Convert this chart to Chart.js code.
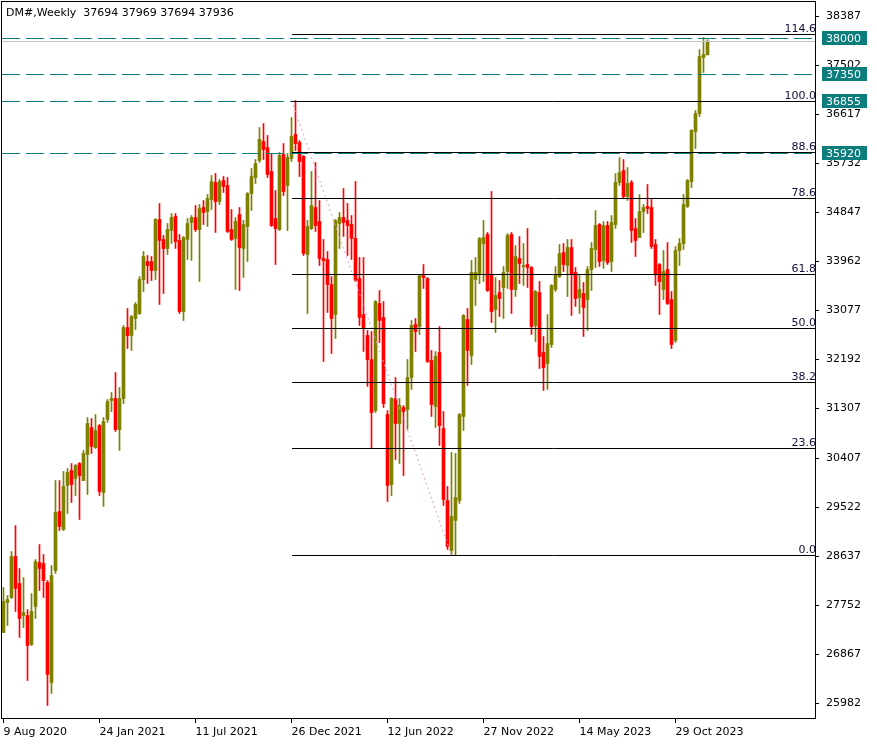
<!DOCTYPE html>
<html>
<head>
<meta charset="utf-8">
<script src="https://cdn.jsdelivr.net/npm/chart.js@4.4.0/dist/chart.umd.min.js"></script>
<style>
html, body { margin: 0; padding: 0; background: #fff; }
canvas { display: block; }
</style>
</head>
<body>
<canvas id="grafico" width="877" height="745"></canvas>
<script>
// weekly candles, DM#, one entry per week starting 9 Aug 2020
var opens = [27262,27804,27894,28635,28147,27569,27569,27045,27732,28526,
  28508,28165,26359,28382,29447,29122,29917,30188,30043,30314,
  30007,30477,30964,30603,31000,29790,31109,31452,31488,30928,
  31488,32770,32626,32933,33023,33637,33962,33962,33800,34721,
  34360,34197,34522,34775,34342,33059,34360,34667,34757,34540,
  34938,34865,35082,35389,35046,35425,35335,34540,34378,34811,
  34197,34594,35190,35479,35786,36130,36021,35588,34739,34540,
  35895,35335,35822,36256,36111,35859,34089,34558,34938,34685,
  34016,33998,33547,33005,34649,34757,34703,34631,34378,33655,
  33005,32626,32192,31271,33204,32951,31199,29935,31488,31037,
  31326,31289,31867,32825,32788,33709,33655,32174,31344,32319,
  30946,29646,28743,29285,29646,31163,32915,32265,33637,33746,
  34287,34450,33709,33095,33402,33493,33782,34450,33457,34016,
  33872,33908,33854,32806,33402,32319,32120,32463,33457,33691,
  34125,33890,34215,33764,33312,33384,33276,33818,34179,34631,
  33980,34612,33962,34631,35389,35606,35136,35389,34558,34396,
  34865,34956,34938,34269,33908,33457,33818,33276,32536,34161,
  34287,34956,35407,36310,36635,37647,37694];
var highs = [28075,27930,28725,29194,28418,28255,27677,27966,28580,28851,
  28671,28201,28472,30007,30007,30170,30224,30314,30296,30332,
  30549,31145,31127,31199,31019,31145,31470,31596,31958,31687,
  32806,33114,32987,33222,33691,34143,34071,34053,34739,35010,
  34432,34649,34829,34829,34450,34414,34739,34793,34974,34992,
  35064,35172,35516,35552,35443,35497,35479,34901,34757,34938,
  34703,35208,35642,35804,36382,36455,36238,35913,35245,35931,
  36093,35913,36563,36870,36148,35877,34703,35588,35750,35064,
  34360,34143,33691,34721,34847,35281,35010,34793,35407,34035,
  34035,32716,32698,33258,33439,33240,31271,31506,31867,31488,
  31362,32192,32897,32933,33728,33908,33673,32355,32337,32788,
  31253,29899,30513,30495,31217,33005,33114,33980,34035,34396,
  34703,34486,35227,33673,33619,33872,34468,34486,34251,34414,
  34287,34558,33872,33439,33601,32608,33005,33547,33872,34269,
  34287,34360,34360,33854,33709,33583,33872,34305,34883,34649,
  34685,34685,34793,35552,35841,35804,35660,35425,34739,35172,
  34992,35353,35082,34360,33926,34161,34305,33421,34233,34378,
  35172,35443,36346,36689,37791,38008,37969];
var lows = [27262,27388,27876,27641,27172,27352,26395,27027,27515,28021,
  27894,25944,26160,28328,29104,29104,29411,29610,29736,29303,
  30007,29754,30495,30585,29736,29538,31055,31253,30892,30549,
  31398,32391,32355,32734,33005,33421,33565,33619,33637,33186,
  33384,34089,34287,34197,33023,32897,33998,33980,34504,33601,
  34631,34594,34901,34486,34992,35208,34486,34342,33457,33439,
  33673,33962,34883,35371,35750,35804,35479,34594,33908,34522,
  35154,34522,35768,35967,35497,34071,33023,34540,34504,33890,
  32156,33041,32301,32572,34197,34414,34071,33998,33601,32806,
  32337,31705,30585,31235,32499,31326,29628,29736,30386,30314,
  30097,30928,31651,32337,32644,33475,32138,31163,30964,30639,
  29556,28761,28653,28653,29592,30910,31723,32102,33168,33565,
  33601,33421,32861,32680,32969,32933,33475,33023,33330,33565,
  33529,33493,32644,32517,32030,31633,31651,32409,33421,33673,
  33782,33330,32987,33150,33023,32608,32716,33439,33854,33872,
  33836,33908,33782,34558,35335,35100,35064,34305,34053,34396,
  34486,34829,34197,33529,33005,33276,33186,32391,32499,33890,
  34179,34938,35299,36003,36581,37376,37694];
var closes = [27822,27858,28635,28057,27515,27623,27027,27641,28544,28418,
  28201,26504,28291,29429,29176,29899,30152,29935,30278,30097,
  30495,31037,30621,30910,29809,31073,31434,31488,30928,31488,
  32770,32626,32969,33186,33637,34053,33890,33800,34721,34342,
  34197,34540,34757,34324,33059,34396,34649,34757,34540,34920,
  34847,35100,35407,35046,35407,35317,34504,34360,34685,34215,
  34631,35190,35497,35732,36166,35985,35534,34612,34558,35877,
  35226,35841,36220,36093,35768,34107,34594,34974,34612,34016,
  33980,33547,32933,34703,34757,34667,34612,34378,33619,32951,
  32752,32192,31235,33240,32897,31398,29917,31488,31037,31362,
  31253,31867,32806,32698,33709,33673,32156,31380,32247,31000,
  29664,28815,29357,29700,31199,32987,32355,33764,33764,34378,
  34396,33439,33059,33348,33294,33764,34432,33457,34053,33926,
  33890,33854,32788,33421,32247,32048,32481,33529,33728,34107,
  33908,34215,33728,33294,33457,33132,33818,34197,34612,33962,
  34612,33944,34667,35389,35570,35136,35371,34522,34342,34865,
  34938,34920,34233,33728,33601,33782,33204,32463,34161,34287,
  34992,35425,36328,36635,37665,37701,37936];

// date labels on the time axis (week index -> label)
var fechasIdx = [0, 24, 48, 72, 96, 120, 144, 168];
var fechas = ["9 Aug 2020", "24 Jan 2021", "11 Jul 2021", "26 Dec 2021",
  "12 Jun 2022", "27 Nov 2022", "14 May 2023", "29 Oct 2023"];

// price scale labels
var ticksPrecio = [38387, 37502, 36617, 35732, 34847, 33962, 33077, 32192,
  31307, 30407, 29522, 28637, 27752, 26867, 25982];

// horizontal levels with teal tags, and the bid line
var niveles = [38000, 37350, 36855, 35920];
var precioActual = 37936;

// fibo retracement, drawn from week 72 (high) to week 112 (low)
var fibRatios = [0, 23.6, 38.2, 50, 61.8, 78.6, 88.6, 100, 114.6];
var fibAlto = 36870, fibBajo = 28653;
var fibDesde = 72, fibHasta = 112;

var titulo = "DM#,Weekly  37694 37969 37694 37936";

var xMin = -0.375, xMax = 202.875;
var ALCISTA = "#808000", BAJISTA = "#ff0000", TEAL = "#0b7d7d";
var FUENTE = "'DejaVu Sans', Tahoma, sans-serif";

Chart.defaults.font.family = FUENTE;
Chart.defaults.font.size = 11;
Chart.defaults.color = "#000";

var colores = opens.map(function (o, i) { return closes[i] >= o ? ALCISTA : BAJISTA; });
var cuerpos = opens.map(function (o, i) { return { x: i, y: [o, closes[i]] }; });
var mechas = highs.map(function (h, i) { return { x: i, y: [lows[i], h] }; });

function nivelFib(r) { return fibBajo + r / 100 * (fibAlto - fibBajo); }

var datasets = [
  {
    // trend line of the fibo object
    type: "line", data: [{ x: fibDesde, y: fibAlto }, { x: fibHasta, y: fibBajo }],
    borderColor: "#dd99dd", borderWidth: 1, borderDash: [2, 3],
    pointRadius: 0, fill: false, order: 0
  },
  {
    type: "bar", data: cuerpos, backgroundColor: colores, borderWidth: 0,
    barThickness: 3, minBarLength: 1, grouped: false, order: 1
  },
  {
    type: "bar", data: mechas, backgroundColor: colores, borderWidth: 0,
    barThickness: 1, grouped: false, order: 2
  }
];

// no extra padding for the first/last labels, keeps the plot at fixed pixels
function sinPadding(s) {
  s.paddingLeft = 0; s.paddingRight = 0; s.paddingTop = 0; s.paddingBottom = 0;
}

// horizontal objects, snapped to whole pixels so they stay sharp
function linea(ctx, chart, precio, desde, color, dash) {
  var a = chart.chartArea;
  var py = Math.round(chart.scales.y.getPixelForValue(precio)) + 0.5;
  var px = Math.round(chart.scales.x.getPixelForValue(desde));
  ctx.strokeStyle = color;
  ctx.setLineDash(dash);
  ctx.beginPath();
  ctx.moveTo(px, py);
  ctx.lineTo(a.right, py);
  ctx.stroke();
}

var extras = {
  id: "extras",
  afterDatasetsDraw: function (chart) {
    var ctx = chart.ctx;
    ctx.save();
    ctx.lineWidth = 1;
    linea(ctx, chart, precioActual, xMin, "#c0c0c0", []);
    niveles.forEach(function (p) { linea(ctx, chart, p, xMin, TEAL, [18, 6]); });
    fibRatios.forEach(function (r) { linea(ctx, chart, nivelFib(r), fibDesde, "#000", []); });
    ctx.restore();
  },
  afterDraw: function (chart) {
    var ctx = chart.ctx, a = chart.chartArea, y = chart.scales.y;
    ctx.save();
    // frame
    ctx.strokeStyle = "#000";
    ctx.lineWidth = 1;
    ctx.strokeRect(a.left - 0.5, a.top - 0.5, a.right - a.left + 1, a.bottom - a.top + 1);
    ctx.font = "11px " + FUENTE;
    // title
    ctx.fillStyle = "#000";
    ctx.textAlign = "left";
    ctx.textBaseline = "alphabetic";
    ctx.fillText(titulo, 6, 16);
    // fibo level texts
    ctx.fillStyle = "#10103a";
    ctx.textAlign = "right";
    fibRatios.forEach(function (r) {
      ctx.fillText(r.toFixed(1), a.right + 1, Math.round(y.getPixelForValue(nivelFib(r))) - 2);
    });
    // teal price tags
    ctx.textAlign = "left";
    ctx.textBaseline = "middle";
    niveles.forEach(function (p) {
      var py = Math.round(y.getPixelForValue(p));
      ctx.fillStyle = TEAL;
      ctx.fillRect(a.right + 7, py - 7, 45, 14);
      ctx.fillStyle = "#fff";
      ctx.fillText(String(p), a.right + 11, py + 1);
    });
    ctx.restore();
  }
};

var grafico = new Chart(document.getElementById("grafico").getContext("2d"), {
  type: "bar",
  data: { datasets: datasets },
  options: {
    responsive: false,
    animation: false,
    devicePixelRatio: 1,
    layout: { padding: { left: 2, top: 2, right: 0, bottom: 0 } },
    plugins: { legend: { display: false }, tooltip: { enabled: false } },
    scales: {
      x: {
        type: "linear", position: "bottom", min: xMin, max: xMax, offset: false,
        afterBuildTicks: function (s) { s.ticks = fechasIdx.map(function (v) { return { value: v }; }); },
        afterFit: function (s) { s.height = 27; sinPadding(s); },
        ticks: {
          autoSkip: false, maxRotation: 0, minRotation: 0, align: "start", padding: 3,
          callback: function (v, idx) { return fechas[idx]; }
        },
        grid: { offset: false, drawOnChartArea: false, drawTicks: true, tickLength: 5, color: "#000" },
        border: { display: false }
      },
      y: {
        position: "right", min: 25718, max: 38649,
        afterBuildTicks: function (s) { s.ticks = ticksPrecio.map(function (v) { return { value: v }; }); },
        afterFit: function (s) { s.width = 62; sinPadding(s); },
        ticks: { autoSkip: false, padding: 7, callback: function (v) { return String(v); } },
        grid: { drawOnChartArea: false, drawTicks: true, tickLength: 4, color: "#000" },
        border: { display: false }
      }
    }
  },
  plugins: [extras]
});
</script>
</body>
</html>
